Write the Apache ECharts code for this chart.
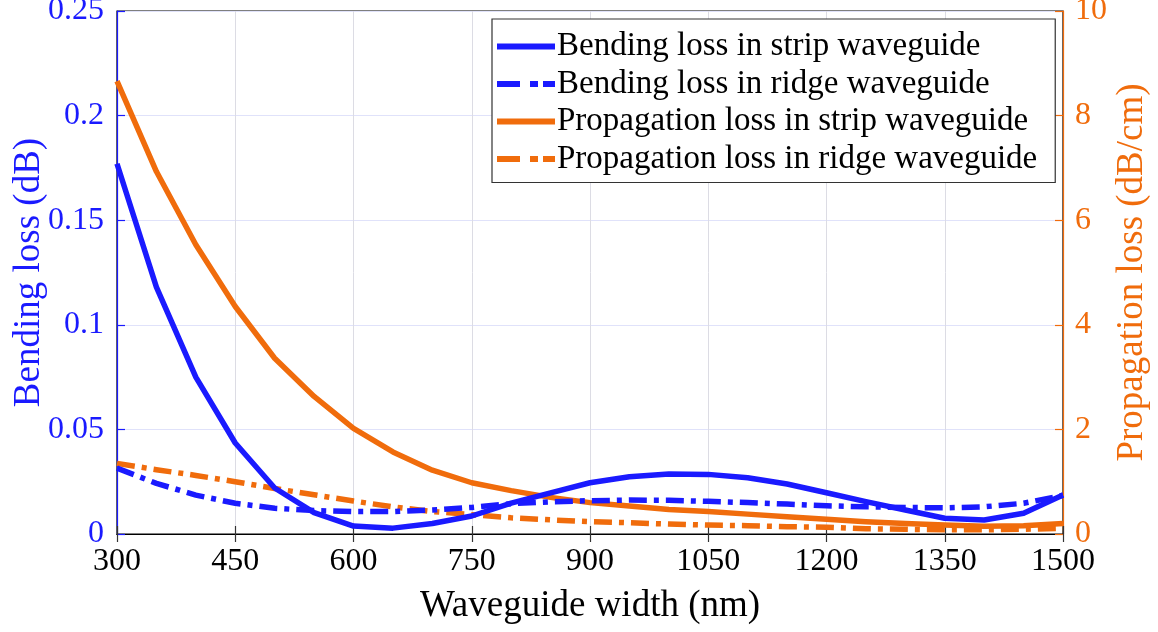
<!DOCTYPE html>
<html>
<head>
<meta charset="utf-8">
<script src="https://cdn.jsdelivr.net/npm/echarts@6/dist/echarts.min.js"></script>
<style>
  html, body { margin: 0; padding: 0; background: #fff; }
  #chart { width: 1158px; height: 632px; }
</style>
</head>
<body>
<div id="chart"></div>
<script>
// Waveguide widths (nm)
const widths = [300, 350, 400, 450, 500, 550, 600, 650, 700, 750, 800, 850, 900,
                950, 1000, 1050, 1100, 1150, 1200, 1250, 1300, 1350, 1400, 1450, 1500];

// Bending loss (dB), left axis
const bendStrip = [0.177, 0.118, 0.075, 0.0435, 0.022, 0.0102, 0.0038, 0.0028, 0.005, 0.0086,
                   0.0148, 0.0197, 0.0245, 0.0274, 0.0287, 0.0285, 0.0269, 0.0239, 0.0197, 0.0155,
                   0.0115, 0.0075, 0.0067, 0.0099, 0.0186];
const bendRidge = [0.0315, 0.0242, 0.0186, 0.0147, 0.0123, 0.0112, 0.0107, 0.0107, 0.0115, 0.0127,
                   0.0145, 0.0154, 0.0159, 0.0162, 0.0161, 0.0156, 0.015, 0.0143, 0.0135, 0.013,
                   0.0127, 0.0125, 0.013, 0.0147, 0.0185];

// Propagation loss (dB/cm), right axis
const propStrip = [8.66, 6.93, 5.53, 4.35, 3.36, 2.63, 2.02, 1.57, 1.22, 0.98,
                   0.83, 0.70, 0.60, 0.535, 0.47, 0.43, 0.38, 0.33, 0.28, 0.235,
                   0.20, 0.17, 0.15, 0.16, 0.20];
const propRidge = [1.35, 1.23, 1.12, 1.0, 0.87, 0.75, 0.63, 0.52, 0.43, 0.37,
                   0.31, 0.27, 0.235, 0.215, 0.19, 0.17, 0.16, 0.14, 0.13, 0.10,
                   0.09, 0.08, 0.08, 0.09, 0.11];

const seriesNames = [
  'Bending loss in strip waveguide',
  'Bending loss in ridge waveguide',
  'Propagation loss in strip waveguide',
  'Propagation loss in ridge waveguide'
];

const BLUE = '#1a1aff';
const ORANGE = '#f06c0c';
const FONT = 'Liberation Serif';
const TICK_SIZE = 32;
const TITLE_SIZE = 37;
const dashDot = [18, 7, 5, 7];

// Legend swatches: a solid bar, and a dash-dot bar for the ridge waveguides
const ICON_SOLID = 'path://M0,0H58V6H0Z';
const ICON_DASHDOT = 'path://M0,0H23V6H0Z M33,0H41V6H33Z M46,0H58V6H46Z';

const pairs = ys => widths.map((w, i) => [w, ys[i]]);

function lineSeries(name, ys, color, dashed, yAxisIndex) {
  return {
    name: name,
    type: 'line',
    yAxisIndex: yAxisIndex,
    data: pairs(ys),
    showSymbol: false,
    symbol: 'none',
    lineStyle: { color: color, width: 5.5, type: dashed ? dashDot : 'solid', cap: 'butt', join: 'round' },
    itemStyle: { color: color },
    z: yAxisIndex === 0 ? 3 : 2
  };
}

const chart = echarts.init(document.getElementById('chart'), null, { renderer: 'canvas' });

chart.setOption({
  animation: false,
  backgroundColor: '#ffffff',
  textStyle: { fontFamily: FONT },
  grid: {
    left: 117, right: 95, top: 11, bottom: 98,
    containLabel: false,
    outerBoundsMode: 'none',
    show: true, borderColor: '#000', borderWidth: 1.2, backgroundColor: 'transparent'
  },
  legend: {
    data: seriesNames.map((n, i) => ({ name: n, icon: i % 2 ? ICON_DASHDOT : ICON_SOLID })),
    orient: 'vertical',
    left: 492,
    top: 19,
    backgroundColor: '#ffffff',
    borderColor: '#333',
    borderWidth: 1.2,
    borderRadius: 0,
    padding: [11, 18, 7, 5],
    itemWidth: 58,
    itemHeight: 6,
    itemGap: 4.5,
    symbolKeepAspect: false,
    textStyle: { fontFamily: FONT, fontSize: 33, color: '#000', padding: [0, 0, 0, -3] }
  },
  xAxis: [
    {
      type: 'value',
      min: 300, max: 1500, interval: 150,
      name: 'Waveguide width (nm)',
      nameLocation: 'middle',
      nameGap: 54,
      nameMoveOverlap: false,
      nameTextStyle: { fontFamily: FONT, fontSize: TITLE_SIZE, color: '#000' },
      axisLine: { lineStyle: { color: '#000', width: 1.2 } },
      axisTick: { inside: true, length: 8, lineStyle: { color: '#333', width: 1.2 } },
      axisLabel: { fontFamily: FONT, fontSize: TICK_SIZE, color: '#000', margin: 12,
                   formatter: v => String(v) },
      splitLine: { show: true, lineStyle: { color: '#dcdce4', width: 1 } }
    },
    {
      type: 'value',
      position: 'top',
      min: 300, max: 1500, interval: 150,
      axisLine: { show: true, lineStyle: { color: '#000', width: 1.2 } },
      axisTick: { show: true, inside: true, length: 8, lineStyle: { color: '#333', width: 1.2 } },
      axisLabel: { show: false },
      splitLine: { show: false }
    }
  ],
  yAxis: [
    {
      type: 'value',
      min: 0, max: 0.25, interval: 0.05,
      name: 'Bending loss (dB)',
      nameLocation: 'middle',
      nameGap: 69,
      nameMoveOverlap: false,
      nameTextStyle: { fontFamily: FONT, fontSize: TITLE_SIZE, color: BLUE },
      axisLine: { show: true, lineStyle: { color: BLUE, width: 1.2 } },
      axisTick: { show: true, inside: true, length: 8, lineStyle: { color: BLUE, width: 1.2 } },
      axisLabel: { fontFamily: FONT, fontSize: TICK_SIZE, color: BLUE, margin: 13 },
      splitLine: { show: true, lineStyle: { color: '#e0e2fa', width: 1 } }
    },
    {
      type: 'value',
      min: 0, max: 10, interval: 2,
      position: 'right',
      name: 'Propagation loss (dB/cm)',
      nameLocation: 'middle',
      nameGap: 51,
      nameRotate: 90,
      nameMoveOverlap: false,
      nameTextStyle: { fontFamily: FONT, fontSize: TITLE_SIZE, color: ORANGE },
      axisLine: { show: true, lineStyle: { color: ORANGE, width: 1.2 } },
      axisTick: { show: true, inside: true, length: 8, lineStyle: { color: ORANGE, width: 1.2 } },
      axisLabel: { fontFamily: FONT, fontSize: TICK_SIZE, color: ORANGE, margin: 12 },
      splitLine: { show: false }
    }
  ],
  series: [
    lineSeries(seriesNames[0], bendStrip, BLUE, false, 0),
    lineSeries(seriesNames[1], bendRidge, BLUE, true, 0),
    lineSeries(seriesNames[2], propStrip, ORANGE, false, 1),
    lineSeries(seriesNames[3], propRidge, ORANGE, true, 1)
  ]
});
</script>
</body>
</html>
